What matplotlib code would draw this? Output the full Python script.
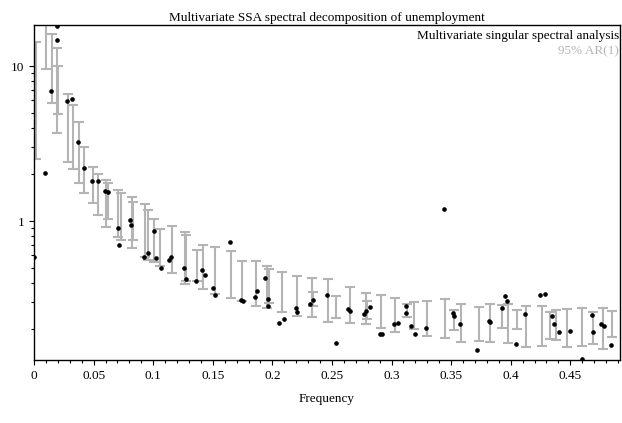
import numpy as np
import matplotlib
matplotlib.use('Agg')
import matplotlib.pyplot as plt
from matplotlib.ticker import MultipleLocator, FixedLocator, NullFormatter, LogLocator

plt.rcParams['font.family'] = ['Liberation Serif', 'DejaVu Serif']

# AR(1) 95% confidence bars: frequency, lower, upper
bar_f = [0.0014, 0.0098, 0.0148, 0.0195, 0.0200, 0.0288, 0.0325, 0.0375, 0.0422,
         0.0492, 0.0539, 0.0607, 0.0620, 0.0707, 0.0730, 0.0822, 0.0830, 0.0929,
         0.0959, 0.1009, 0.1057, 0.1155, 0.1267, 0.1275, 0.1365, 0.1418, 0.1518,
         0.1650, 0.1747, 0.1862, 0.1957, 0.1970, 0.2083, 0.2206, 0.2330, 0.2340,
         0.2469, 0.2534, 0.2651, 0.2783, 0.2795, 0.2911, 0.3029, 0.3127, 0.3190,
         0.3300, 0.3446, 0.3523, 0.3580, 0.3733, 0.3826, 0.3929, 0.3974, 0.4055,
         0.4125, 0.4259, 0.4329, 0.4377, 0.4469, 0.4600, 0.4687, 0.4776, 0.4852]
bar_lo = [2.50, 9.56, 5.75, 3.70, 4.90, 2.40, 2.17, 1.77, 1.51,
          1.31, 1.09, 0.92, 1.03, 0.79, 0.75, 0.67, 0.75, 0.59,
          0.56, 0.54, 0.51, 0.46, 0.39, 0.41, 0.41, 0.364, 0.338,
          0.320, 0.305, 0.284, 0.276, 0.295, 0.260, 0.245, 0.240, 0.284,
          0.223, 0.237, 0.219, 0.216, 0.233, 0.204, 0.192, 0.241, 0.200,
          0.181, 0.175, 0.198, 0.166, 0.169, 0.166, 0.205, 0.164, 0.201,
          0.153, 0.155, 0.173, 0.171, 0.153, 0.155, 0.160, 0.150, 0.178]
bar_hi = [14.3, 18.3, 16.1, 13.1, 10.0, 6.60, 5.60, 4.37, 3.02,
          2.23, 2.02, 1.84, 1.76, 1.58, 1.52, 1.43, 1.33, 1.29,
          1.18, 1.03, 0.89, 0.93, 0.85, 0.81, 0.65, 0.70, 0.68,
          0.64, 0.55, 0.55, 0.51, 0.49, 0.47, 0.44, 0.43, 0.35,
          0.42, 0.33, 0.375, 0.345, 0.305, 0.333, 0.320, 0.290, 0.302,
          0.306, 0.314, 0.267, 0.292, 0.277, 0.292, 0.287, 0.292, 0.267,
          0.284, 0.284, 0.258, 0.267, 0.271, 0.273, 0.258, 0.273, 0.263]

# MSSA eigenvalues
pt_f = [0.0, 0.009, 0.0143, 0.0195, 0.0195, 0.0277, 0.0319, 0.0372, 0.0419,
        0.0489, 0.0534, 0.0598, 0.0618, 0.0707, 0.0716, 0.0808, 0.0811, 0.092,
        0.0956, 0.1007, 0.1021, 0.1068, 0.1133, 0.1152, 0.1258, 0.1275, 0.1362,
        0.1407, 0.1432, 0.1504, 0.1516, 0.1642, 0.1737, 0.1751, 0.1854, 0.1871,
        0.1935, 0.1961, 0.1961, 0.2055, 0.2100, 0.2195, 0.2209, 0.2315, 0.2338,
        0.2461, 0.2531, 0.2637, 0.2651, 0.2768, 0.2785, 0.2816, 0.2903, 0.2917,
        0.3023, 0.3054, 0.3121, 0.3123, 0.3163, 0.3199, 0.3291, 0.3442, 0.3513,
        0.3521, 0.3571, 0.3714, 0.3815, 0.3828, 0.3924, 0.3951, 0.3971, 0.4044,
        0.4117, 0.4247, 0.4287, 0.4348, 0.4360, 0.4407, 0.4499, 0.4597, 0.4681,
        0.4695, 0.4757, 0.4782, 0.4841]
pt_v = [0.59, 2.03, 6.90, 18.2, 14.7, 5.95, 6.10, 3.22, 2.20,
        1.80, 1.80, 1.56, 1.53, 0.90, 0.70, 1.01, 0.94, 0.59,
        0.62, 0.86, 0.58, 0.50, 0.56, 0.59, 0.50, 0.42, 0.41,
        0.48, 0.45, 0.37, 0.333, 0.73, 0.309, 0.303, 0.324, 0.353,
        0.43, 0.314, 0.283, 0.219, 0.233, 0.275, 0.258, 0.290, 0.309,
        0.335, 0.163, 0.271, 0.261, 0.250, 0.261, 0.277, 0.188, 0.186,
        0.216, 0.219, 0.283, 0.254, 0.210, 0.188, 0.204, 1.20, 0.256,
        0.244, 0.218, 0.147, 0.226, 0.222, 0.273, 0.329, 0.306, 0.161,
        0.252, 0.333, 0.338, 0.243, 0.216, 0.192, 0.195, 0.128, 0.249,
        0.192, 0.216, 0.209, 0.159]

fig = plt.figure(figsize=(6.22, 4.23), dpi=100)
ax = fig.add_axes([0.0547, 0.1489, 0.942, 0.792])

lo = np.array(bar_lo)
hi = np.array(bar_hi)
ax.errorbar(bar_f, lo, yerr=[np.zeros_like(lo), hi - lo], fmt='none',
            ecolor='#b4b4b4', elinewidth=1.5, capsize=3.6, capthick=1.5)
ax.plot(pt_f, pt_v, 'o', color='black', markersize=2.3, linestyle='none')

ax.set_yscale('log')
ax.set_xlim(0, 0.4917)
ax.set_ylim(0.1268, 18.4)

ax.xaxis.set_minor_locator(MultipleLocator(0.01))
ax.set_xticks([0, 0.05, 0.1, 0.15, 0.2, 0.25, 0.3, 0.35, 0.4, 0.45])
ax.set_xticklabels(['0', '0.05', '0.1', '0.15', '0.2', '0.25', '0.3', '0.35', '0.4', '0.45'])
ax.yaxis.set_major_locator(FixedLocator([1, 10]))
ax.set_yticklabels(['1', '10'])
ax.yaxis.set_minor_locator(LogLocator(base=10, subs=np.arange(2, 10)))
ax.yaxis.set_minor_formatter(NullFormatter())

ax.tick_params(which='both', direction='out', top=False, right=False, labelsize=9.5)
ax.tick_params(which='major', length=3.6, width=0.8)
ax.tick_params(which='minor', length=2.2, width=0.8)
for s in ax.spines.values():
    s.set_linewidth(1.0)

ax.set_title('Multivariate SSA spectral decomposition of unemployment', fontsize=9.5, pad=3)
ax.set_xlabel('Frequency', fontsize=9.5, labelpad=8)
ax.text(0.998, 0.985, 'Multivariate singular spectral analysis', transform=ax.transAxes,
        ha='right', va='top', fontsize=9.5, color='black')
ax.text(0.998, 0.94, '95% AR(1)', transform=ax.transAxes,
        ha='right', va='top', fontsize=9.5, color='#b4b4b4')

fig.savefig('out.png', dpi=100)
